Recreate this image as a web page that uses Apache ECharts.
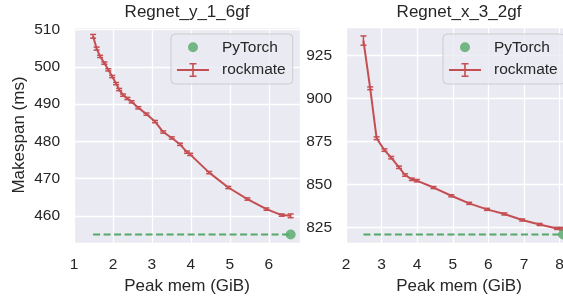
<!DOCTYPE html>
<html>
<head>
<meta charset="utf-8">
<script src="https://cdn.jsdelivr.net/npm/echarts@6/dist/echarts.min.js"></script>
<style>html,body{margin:0;padding:0;background:#fff}#c{width:563px;height:296px}</style>
</head>
<body>
<div id="c"></div>
<script>
// ---- data ----
const titles = ['Regnet_y_1_6gf', 'Regnet_x_3_2gf'];
const yName = 'Makespan (ms)';
const xName = 'Peak mem (GiB)';
const legendNames = ['PyTorch', 'rockmate'];

const leftXTicks = [1, 2, 3, 4, 5, 6];
const leftYTicks = [460, 470, 480, 490, 500, 510];
const rightXTicks = [2, 3, 4, 5, 6, 7, 8];
const rightYTicks = [825, 850, 875, 900, 925];

const leftMem = [1.49, 1.58, 1.67, 1.78, 1.88, 1.98, 2.08, 2.16, 2.26, 2.37, 2.48, 2.65, 2.86, 3.08, 3.29, 3.51, 3.72, 3.90, 3.98, 4.47, 4.96, 5.45, 5.94, 6.33, 6.56];
const leftTime = [508.2, 504.9, 502.8, 501.0, 499.2, 497.4, 495.5, 493.9, 492.4, 491.5, 490.6, 489.0, 487.3, 485.3, 482.5, 480.9, 479.2, 477.1, 476.5, 471.6, 467.6, 464.5, 461.8, 460.2, 460.0];
const leftErr = [0.5, 0.4, 0.3, 0.3, 0.3, 0.3, 0.3, 0.3, 0.3, 0.3, 0.3, 0.3, 0.3, 0.3, 0.3, 0.3, 0.3, 0.3, 0.3, 0.3, 0.3, 0.3, 0.3, 0.3, 0.5];
const leftTorch = [6.56, 455.0];

const rightMem = [2.49, 2.68, 2.86, 3.08, 3.27, 3.49, 3.66, 3.85, 3.99, 4.46, 4.96, 5.46, 5.96, 6.45, 6.95, 7.44, 7.93, 8.07];
const rightTime = [933.8, 906.0, 876.9, 870.0, 865.6, 860.0, 855.5, 853.0, 852.2, 848.2, 843.4, 839.0, 835.5, 832.8, 829.3, 826.7, 824.4, 824.2];
const rightErr = [2.7, 0.8, 0.8, 0.7, 0.7, 0.7, 0.7, 0.7, 0.7, 0.6, 0.6, 0.6, 0.6, 0.6, 0.6, 0.6, 0.6, 0.8];
const rightTorch = [8.10, 820.8];

// ---- styling ----
const RED = '#C44E52', GREEN = '#55A868', BG = '#EAEAF2', TXT = '#262626';
const FONT = '"Liberation Sans", Arial, sans-serif';

function tickFmt(list) {
  return v => list.some(t => Math.abs(t - v) < 1e-6) ? String(v) : '';
}
function xAxis(idx, min, max, ticks) {
  return {
    type: 'value', gridIndex: idx, min, max, interval: 1,
    axisLine: {show: false}, axisTick: {show: false},
    splitLine: {show: true, lineStyle: {color: '#fff', width: 1.3}},
    axisLabel: {color: TXT, fontSize: 15.5, fontFamily: FONT, margin: 14, formatter: tickFmt(ticks)},
    name: xName, nameLocation: 'middle', nameGap: 31,
    nameTextStyle: {color: TXT, fontSize: 17, fontFamily: FONT}
  };
}
function yAxis(idx, min, max, step, ticks, name) {
  return {
    type: 'value', gridIndex: idx, min, max, minInterval: step, maxInterval: step,
    axisLine: {show: false}, axisTick: {show: false},
    splitLine: {show: true, lineStyle: {color: '#fff', width: 1.3}},
    axisLabel: {color: TXT, fontSize: 15.5, fontFamily: FONT, margin: 14, formatter: tickFmt(ticks)},
    name: name || '', nameLocation: 'middle', nameGap: 46,
    nameTextStyle: {color: TXT, fontSize: 17, fontFamily: FONT}
  };
}
function errSeries(i, xs, ys, es) {
  return {
    type: 'custom', xAxisIndex: i, yAxisIndex: i, silent: true, z: 3,
    data: xs.map((x, k) => [x, ys[k] - es[k], ys[k] + es[k]]),
    encode: {x: 0, y: [1, 2]},
    renderItem(params, api) {
      const lo = api.coord([api.value(0), api.value(1)]);
      const hi = api.coord([api.value(0), api.value(2)]);
      const hw = 3;
      const st = {stroke: RED, lineWidth: 1.5};
      return {type: 'group', children: [
        {type: 'line', shape: {x1: lo[0], y1: lo[1], x2: hi[0], y2: hi[1]}, style: st},
        {type: 'line', shape: {x1: lo[0] - hw, y1: lo[1], x2: lo[0] + hw, y2: lo[1]}, style: st},
        {type: 'line', shape: {x1: hi[0] - hw, y1: hi[1], x2: hi[0] + hw, y2: hi[1]}, style: st}
      ]};
    }
  };
}
function seriesFor(i, xs, ys, es, torch) {
  return [
    {name: 'rockmate', type: 'line', xAxisIndex: i, yAxisIndex: i, showSymbol: false, z: 4,
     data: xs.map((x, k) => [x, ys[k]]), lineStyle: {color: RED, width: 2}, itemStyle: {color: RED}},
    errSeries(i, xs, ys, es),
    {name: 'torchline' + i, type: 'line', xAxisIndex: i, yAxisIndex: i, showSymbol: false, z: 2,
     data: [[xs[0], torch[1]], [torch[0], torch[1]]],
     lineStyle: {color: GREEN, width: 2, type: [7, 3.5]}, itemStyle: {color: GREEN}},
    {name: 'PyTorch', type: 'scatter', xAxisIndex: i, yAxisIndex: i, z: 5, symbolSize: 10,
     data: [torch], itemStyle: {color: GREEN}}
  ];
}
const ICON_DOT = 'path://M0,0 h0.01 v0.01 h-0.01 Z M40,14 h-0.01 v-0.01 h0.01 Z M11,7 A5,5 0 1,0 21,7 A5,5 0 1,0 11,7 Z';
const ICON_ERR = 'path://M0,0 h0.01 v0.01 h-0.01 Z M40,14 h-0.01 v-0.01 h0.01 Z M0,6.1 h32 v1.8 h-32 Z M15.2,0.5 h1.6 v13 h-1.6 Z M12.5,0 h7 v1.5 h-7 Z M12.5,12.5 h7 v1.5 h-7 Z';
function legend(left) {
  return {
    left, top: 34, orient: 'vertical', itemWidth: 40, itemHeight: 14, itemGap: 4.7,
    padding: [4.3, 7, 5, 6], backgroundColor: 'rgba(234,234,242,0.8)',
    borderColor: '#cccccc', borderWidth: 1, borderRadius: 4,
    selectedMode: false,
    itemStyle: {borderWidth: 0},
    textStyle: {color: TXT, fontSize: 15.5, fontFamily: FONT, lineHeight: 18},
    data: [{name: legendNames[0], icon: ICON_DOT}, {name: legendNames[1], icon: ICON_ERR}]
  };
}

const chart = echarts.init(document.getElementById('c'), null, {renderer: 'canvas'});
chart.setOption({
  animation: false,
  backgroundColor: '#fff',
  title: [
    {text: titles[0], left: 187, top: 4, textAlign: 'center', padding: 0, textStyle: {color: TXT, fontSize: 17, fontWeight: 'normal', fontFamily: FONT}},
    {text: titles[1], left: 459, top: 4, textAlign: 'center', padding: 0, textStyle: {color: TXT, fontSize: 17, fontWeight: 'normal', fontFamily: FONT}}
  ],
  grid: [
    {left: 74, top: 27, width: 226, height: 216, show: true, backgroundColor: BG, borderWidth: 0, outerBoundsMode: 'none', containLabel: false},
    {left: 346, top: 27, width: 226, height: 216, show: true, backgroundColor: BG, borderWidth: 0, outerBoundsMode: 'none', containLabel: false}
  ],
  xAxis: [xAxis(0, 1, 6.8, leftXTicks), xAxis(1, 2, 8.35, rightXTicks)],
  yAxis: [yAxis(0, 452.7, 510.7, 10, leftYTicks, yName), yAxis(1, 815.9, 941.7, 25, rightYTicks, '')],
  legend: [legend(171), legend(443)],
  series: [].concat(seriesFor(0, leftMem, leftTime, leftErr, leftTorch), seriesFor(1, rightMem, rightTime, rightErr, rightTorch))
});
</script>
</body>
</html>
